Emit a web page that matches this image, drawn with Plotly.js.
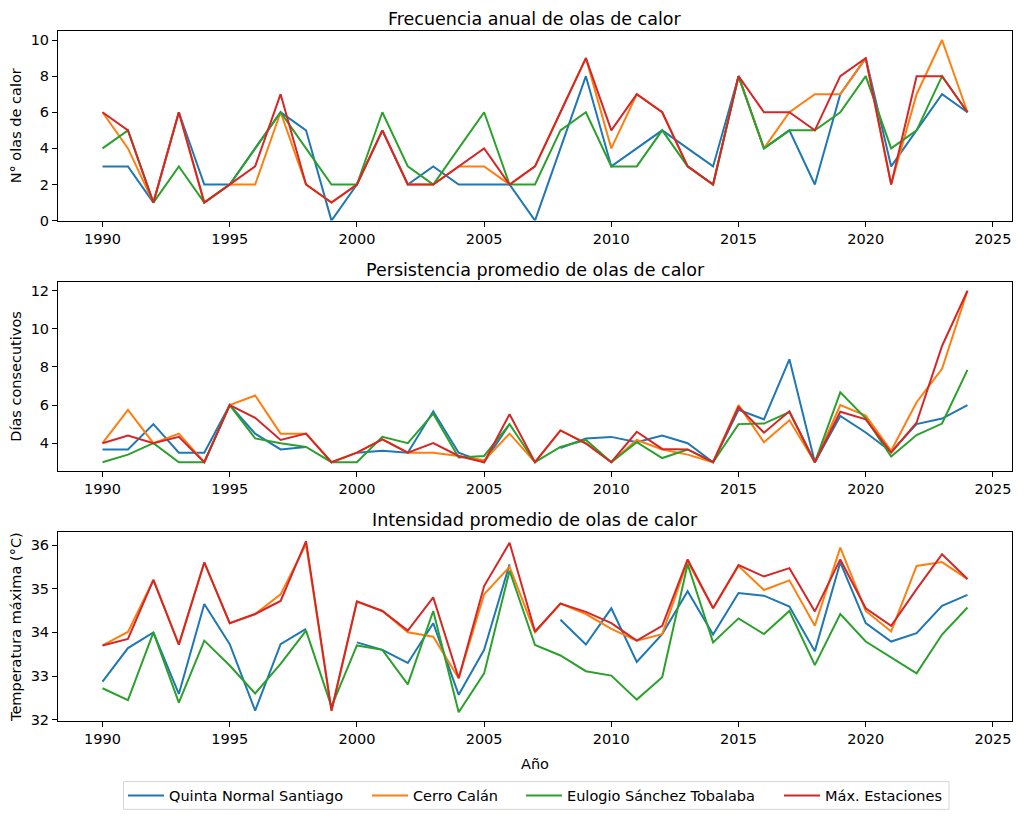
<!DOCTYPE html>
<html>
<head>
<meta charset="utf-8">
<script src="https://cdn.plot.ly/plotly-3.0.1.min.js"></script>
<style>html,body{margin:0;padding:0;background:#fff;}#chart{width:1024px;height:824px;}</style>
</head>
<body>
<div id="chart"></div>
<script>
// Years
const years = [1990,1991,1992,1993,1994,1995,1996,1997,1998,1999,2000,2001,2002,2003,2004,2005,2006,2007,2008,2009,2010,2011,2012,2013,2014,2015,2016,2017,2018,2019,2020,2021,2022,2023,2024];

const stationNames = ["Quinta Normal Santiago", "Cerro Calán", "Eulogio Sánchez Tobalaba", "Máx. Estaciones"];
const stationColors = ["#1f77b4", "#ff7f0e", "#2ca02c", "#d62728"];

// Frecuencia anual (N° olas de calor)
const freqQuinta  = [3,3,1,6,2,2,4,6,5,0,2,5,2,3,2,2,2,0,4,8,3,4,5,4,3,8,4,5,2,7,9,3,5,7,6];
const freqCalan   = [6,4,1,6,1,2,2,6,2,1,2,5,2,2,3,3,2,3,6,9,4,7,6,3,2,8,4,6,7,7,9,2,7,10,6];
const freqEulogio = [4,5,1,3,1,2,4,6,4,2,2,6,3,2,4,6,2,2,5,6,3,3,5,3,2,8,4,5,5,6,8,4,5,8,6];
const freqMax     = [6,5,1,6,1,2,3,7,2,1,2,5,2,2,3,4,2,3,6,9,5,7,6,3,2,8,6,6,5,8,9,2,8,8,6];

// Persistencia promedio (días consecutivos)
const persQuinta  = [3.67,3.67,5,3.5,3.5,6,4.5,3.67,3.8,null,3.5,3.6,3.5,5.67,3.5,3.0,5.0,null,3.75,4.25,4.33,4.05,4.4,4.0,3,5.75,5.25,8.4,3,5.43,4.56,3.55,5.0,5.29,6.0];
const persCalan   = [4,5.75,4,4.5,3,6,6.5,4.5,4.5,3,3.5,4.2,3.5,3.5,3.33,3.1,4.5,3,4.67,4.0,3,4.17,3.67,3.4,3,6.0,4.05,5.2,3,6.0,5.45,3.6,6.15,7.9,12];
const persEulogio = [3,3.4,4,3,3,6,4.25,4,3.8,3,3,4.33,4.0,5.55,3.25,3.33,5.0,3,3.8,4.17,3,4.05,3.22,3.67,3,5.0,5.03,5.63,3,6.67,5.3,3.3,4.43,5.03,7.85];
const persMax     = [4,4.4,4,4.33,3,6,5.33,4.17,4.5,3,3.5,4.2,3.5,4.0,3.33,3.0,5.52,3,4.67,3.98,3,4.6,3.7,3.67,3,5.9,4.55,5.67,3,5.65,5.25,3.5,5.08,9.1,12];

// Intensidad promedio (temperatura máxima °C)
const intQuinta  = [32.87,33.64,34.0,32.59,34.65,33.73,32.21,33.73,34.08,null,33.77,33.6,33.3,34.21,32.57,33.6,35.56,null,34.29,33.72,34.55,33.32,33.96,34.94,33.95,34.9,34.84,34.59,33.57,35.6,34.21,33.79,33.98,34.61,34.86];
const intCalan   = [33.7,34.01,35.2,33.72,35.6,34.21,34.42,34.87,36.02,32.2,34.7,34.49,34.0,33.9,32.95,34.87,35.5,34.0,34.66,34.42,34.08,33.81,33.96,35.63,34.55,35.52,34.97,35.19,34.15,35.94,34.49,34.02,35.52,35.61,35.22];
const intEulogio = [32.72,32.45,34.0,32.39,33.81,33.24,32.6,33.28,34.04,32.3,33.7,33.6,32.81,34.49,32.17,33.06,35.41,33.71,33.47,33.11,33.01,32.46,32.97,35.56,33.77,34.32,33.96,34.49,33.25,34.42,33.79,33.43,33.06,33.95,34.57];
const intMax     = [33.7,33.85,35.2,33.72,35.6,34.21,34.42,34.72,36.09,32.21,34.71,34.49,34.04,34.8,32.95,35.06,36.05,34.02,34.66,34.47,34.21,33.81,34.15,35.67,34.55,35.54,35.28,35.47,34.48,35.67,34.55,34.15,34.99,35.79,35.22];

const panelTitles = ["Frecuencia anual de olas de calor", "Persistencia promedio de olas de calor", "Intensidad promedio de olas de calor"];
const yTitles = ["N° olas de calor", "Días consecutivos", "Temperatura máxima (°C)"];
const xTitle = "Año";

const panels = [
  [freqQuinta, freqCalan, freqEulogio, freqMax],
  [persQuinta, persCalan, persEulogio, persMax],
  [intQuinta, intCalan, intEulogio, intMax]
];

const legendIds = ['legend', 'legend2', 'legend3', 'legend4'];

const traces = [];
panels.forEach((series, p) => {
  series.forEach((vals, i) => {
    traces.push({
      x: years, y: vals, type: 'scatter', mode: 'lines',
      name: stationNames[i],
      line: {color: stationColors[i], width: 2},
      xaxis: p === 0 ? 'x' : 'x' + (p + 1),
      yaxis: p === 0 ? 'y' : 'y' + (p + 1),
      showlegend: p === 0,
      legend: legendIds[i],
      legendgroup: 'g' + i,
      connectgaps: false
    });
  });
});

const FAM = 'DejaVu Sans, sans-serif';
const tickFont = {family: FAM, size: 14.5, color: '#000'};
const labFont = {family: FAM, size: 14.5, color: '#000'};
function xax(anchor, showTitle) {
  const a = {
    anchor: anchor, range: [1988.25, 2025.75], tickvals: [1990,1995,2000,2005,2010,2015,2020,2025],
    showline: true, mirror: true, linecolor: '#000', linewidth: 1,
    ticks: 'outside', ticklen: 5, tickcolor: '#000', showgrid: false, zeroline: false,
    tickfont: tickFont
  };
  if (showTitle) a.title = {text: xTitle, font: labFont, standoff: 12};
  return a;
}
function yax(anchor, domain, range, tickvals, title) {
  return {
    anchor: anchor, domain: domain, range: range, tickvals: tickvals,
    showline: true, mirror: true, linecolor: '#000', linewidth: 1,
    ticks: 'outside', ticklen: 5, tickcolor: '#000', showgrid: false, zeroline: false,
    tickfont: tickFont, title: {text: title, font: labFont, standoff: 5}
  };
}

const d1 = [0.7252, 1.0], d2 = [0.3626, 0.636], d3 = [0.0, 0.2734];

// legend placement (pixel helpers -> paper fractions)
const plotL = 58, plotW = 954, plotBottom = 726, plotH = 695;
const px2x = v => (v - plotL) / plotW;
const px2y = v => (plotBottom - v) / plotH;
const legendLineStarts = [129, 373, 527, 785];

const layout = {
  width: 1024, height: 824,
  margin: {l: 58, r: 12, t: 31, b: 98},
  paper_bgcolor: '#fff', plot_bgcolor: '#fff',
  font: tickFont,
  xaxis: xax('y', false),
  xaxis2: xax('y2', false),
  xaxis3: xax('y3', true),
  yaxis: yax('x', d1, [0, 10.5], [0,2,4,6,8,10], yTitles[0]),
  yaxis2: yax('x2', d2, [2.55, 12.45], [4,6,8,10,12], yTitles[1]),
  yaxis3: yax('x3', d3, [31.97, 36.29], [32,33,34,35,36], yTitles[2]),
  annotations: [d1, d2, d3].map((d, i) => ({
    text: panelTitles[i], xref: 'paper', yref: 'paper', x: 0.5, y: d[1],
    xanchor: 'center', yanchor: 'bottom', yshift: 0, showarrow: false,
    font: {family: FAM, size: 17.5, color: '#000'}
  })),
  shapes: [{
    type: 'rect', xref: 'paper', yref: 'paper',
    x0: px2x(123.5), x1: px2x(949), y0: px2y(787), y1: px2y(815),
    line: {color: '#d5d5d5', width: 1}, fillcolor: 'rgba(255,255,255,0.8)', layer: 'below'
  }]
};
legendIds.forEach((id, i) => {
  layout[id] = {
    orientation: 'h', x: px2x(legendLineStarts[i] - 6), xanchor: 'left',
    y: px2y(801), yanchor: 'middle',
    borderwidth: 0, bgcolor: 'rgba(0,0,0,0)',
    font: {family: FAM, size: 14.5, color: '#000'}, itemwidth: 36
  };
});

Plotly.newPlot('chart', traces, layout, {displayModeBar: false, staticPlot: true});
</script>
</body>
</html>
